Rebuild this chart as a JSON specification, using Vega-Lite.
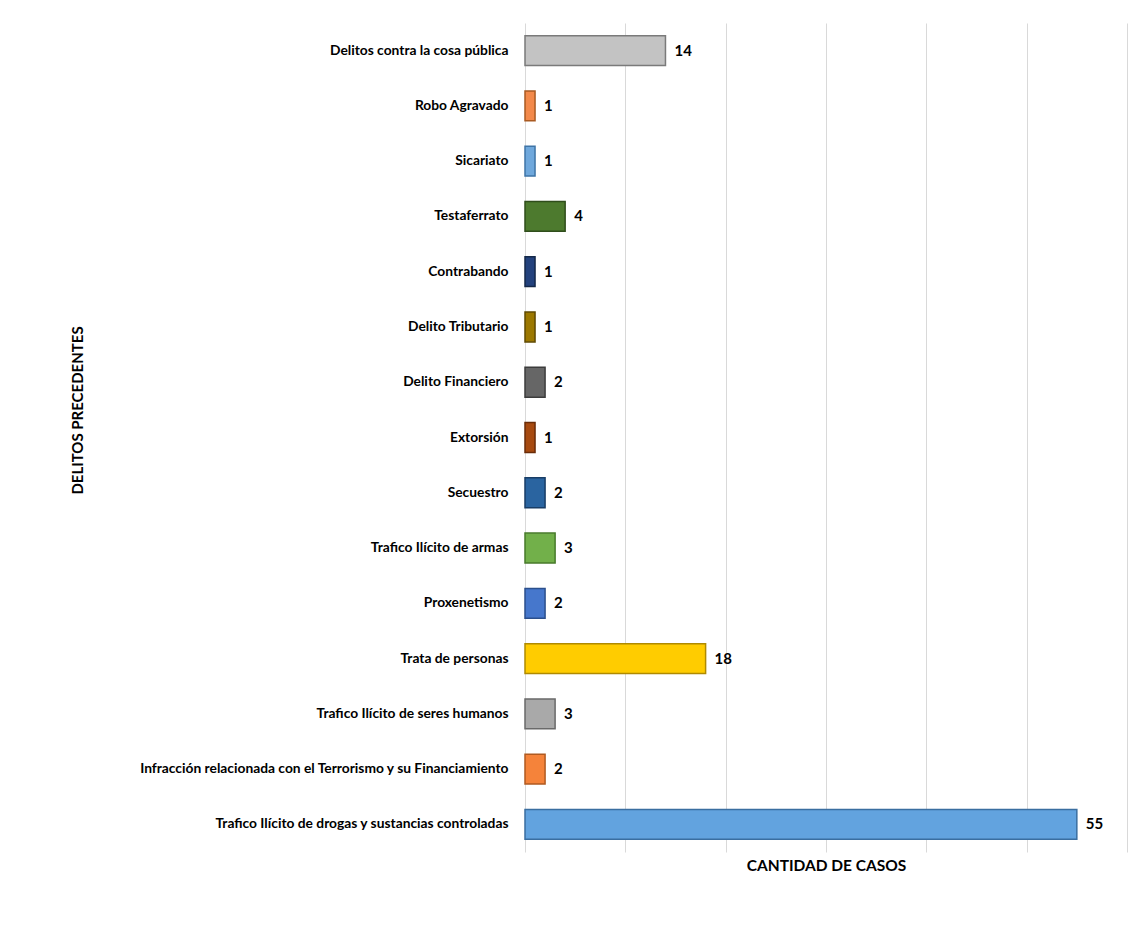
{
  "$schema": "https://vega.github.io/schema/vega-lite/v6.json",
  "autosize": {"type": "none"},
  "width": 602,
  "height": 829,
  "padding": {"left": 525, "top": 23, "right": 8, "bottom": 80},
  "background": "white",
  "config": {
    "view": {"stroke": null},
    "font": "Lato",
    "text": {"font": "Lato"}
  },
  "data": {
    "values": [
      {"delito": "Delitos contra la cosa pública", "casos": 14},
      {"delito": "Robo Agravado\u00a0", "casos": 1},
      {"delito": "Sicariato", "casos": 1},
      {"delito": "Testaferrato", "casos": 4},
      {"delito": "Contrabando", "casos": 1},
      {"delito": "Delito Tributario", "casos": 1},
      {"delito": "Delito Financiero\u00a0", "casos": 2},
      {"delito": "Extorsión\u00a0", "casos": 1},
      {"delito": "Secuestro", "casos": 2},
      {"delito": "Trafico Ilícito de armas", "casos": 3},
      {"delito": "Proxenetismo", "casos": 2},
      {"delito": "Trata de personas", "casos": 18},
      {"delito": "Trafico Ilícito de seres humanos\u00a0", "casos": 3},
      {"delito": "Infracción relacionada con el Terrorismo y su Financiamiento\u00a0", "casos": 2},
      {"delito": "Trafico Ilícito de drogas y sustancias controladas", "casos": 55}
    ]
  },
  "encoding": {
    "y": {
      "field": "delito",
      "type": "nominal",
      "sort": null,
      "scale": {"paddingInner": 0.46, "paddingOuter": 0.23},
      "axis": {
        "title": "DELITOS PRECEDENTES",
        "titleFont": "Lato",
        "titleFontSize": 15,
        "titleFontWeight": "bold",
        "titleColor": "#000000",
        "titleX": -448,
        "titleY": 387,
        "titleAngle": -90,
        "titleAlign": "center",
        "titleBaseline": "middle",
        "labelFont": "Lato",
        "labelFontSize": 13.8,
        "labelFontWeight": "bold",
        "labelColor": "#000000",
        "labelPadding": 17,
        "labelLimit": 600,
        "ticks": false,
        "domain": false,
        "grid": false
      }
    },
    "x": {
      "field": "casos",
      "type": "quantitative",
      "scale": {"domain": [0, 60], "nice": false},
      "axis": {
        "title": "CANTIDAD DE CASOS",
        "titleFont": "Lato",
        "titleFontSize": 15.5,
        "titleFontWeight": "bold",
        "titleColor": "#000000",
        "titlePadding": 6,
        "labels": false,
        "ticks": false,
        "domain": false,
        "grid": true,
        "gridColor": "#d9d9d9",
        "gridWidth": 1,
        "values": [0, 10, 20, 30, 40, 50, 60]
      }
    }
  },
  "layer": [
    {
      "mark": {"type": "bar", "strokeWidth": 1.5},
      "encoding": {
        "fill": {
          "field": "delito",
          "type": "nominal",
          "legend": null,
          "scale": {
            "domain": ["Delitos contra la cosa pública", "Robo Agravado\u00a0", "Sicariato", "Testaferrato", "Contrabando", "Delito Tributario", "Delito Financiero\u00a0", "Extorsión\u00a0", "Secuestro", "Trafico Ilícito de armas", "Proxenetismo", "Trata de personas", "Trafico Ilícito de seres humanos\u00a0", "Infracción relacionada con el Terrorismo y su Financiamiento\u00a0", "Trafico Ilícito de drogas y sustancias controladas"],
            "range": ["#c3c3c3", "#f3894a", "#6fa8dc", "#4d7a2e", "#23427d", "#9c7800", "#666666", "#a74a10", "#2a64a0", "#72b04a", "#4677cc", "#ffcc00", "#a9a9a9", "#f5833a", "#62a3df"]
          }
        },
        "stroke": {
          "field": "delito",
          "type": "nominal",
          "legend": null,
          "scale": {
            "domain": ["Delitos contra la cosa pública", "Robo Agravado\u00a0", "Sicariato", "Testaferrato", "Contrabando", "Delito Tributario", "Delito Financiero\u00a0", "Extorsión\u00a0", "Secuestro", "Trafico Ilícito de armas", "Proxenetismo", "Trata de personas", "Trafico Ilícito de seres humanos\u00a0", "Infracción relacionada con el Terrorismo y su Financiamiento\u00a0", "Trafico Ilícito de drogas y sustancias controladas"],
            "range": ["#7a7a7a", "#a95a22", "#3f74a6", "#2f4d1b", "#142849", "#5f4900", "#3c3c3c", "#6a2c08", "#183d66", "#477a2a", "#2b4f8c", "#b08a00", "#6a6a6a", "#b05a20", "#3a6ea0"]
          }
        }
      }
    },
    {
      "mark": {"type": "text", "align": "left", "baseline": "middle", "dx": 9, "font": "Lato", "fontSize": 15, "fontWeight": "bold", "color": "#000000"},
      "encoding": {
        "text": {"field": "casos", "type": "quantitative"}
      }
    }
  ]
}
